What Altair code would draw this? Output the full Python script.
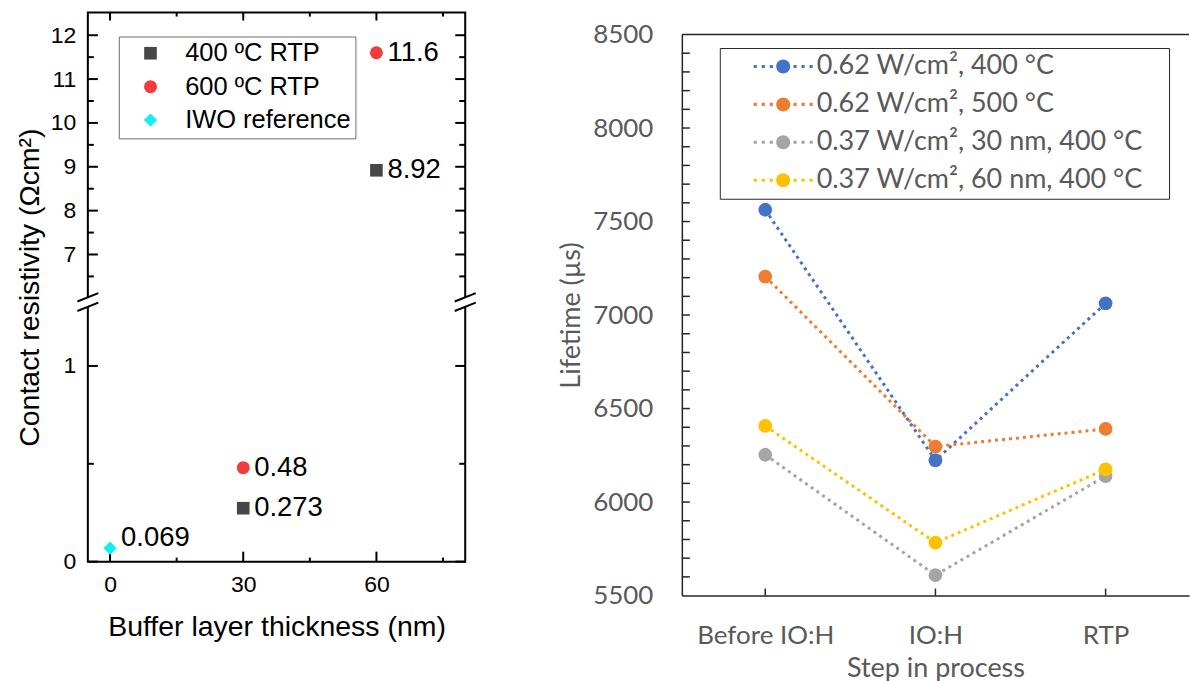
import altair as alt
import pandas as pd

# ---------------- data: left panel ----------------
left_series = ["400 ºC RTP", "600 ºC RTP", "IWO reference"]
left_colors = ["#474747", "#F23C3C", "#12EEF6"]
left_shapes = ["square", "circle", "diamond"]
left_sizes = [160, 177, 246]
rtp400_x = [30, 60]
rtp400_y = [0.273, 8.92]
rtp600_x = [30, 60]
rtp600_y = [0.48, 11.6]
iwo_x = [0]
iwo_y = [0.069]
left_x_ticks = [0, 30, 60]
left_x_minor = [15, 45, 75]
left_y_ticks = [0, 1, 7, 8, 9, 10, 11, 12]
left_y_minor = [0.5, 6.5, 7.5, 8.5, 9.5, 10.5, 11.5]

# ---------------- data: right panel ----------------
steps = ["Before IO:H", "IO:H", "RTP"]
right_series = ["0.62 W/cm², 400 °C", "0.62 W/cm², 500 °C",
                "0.37 W/cm², 30 nm, 400 °C", "0.37 W/cm², 60 nm, 400 °C"]
right_colors = ["#4472C4", "#ED7D31", "#A5A5A5", "#FFC000"]
blue = [7563, 6223, 7063]
orange = [7206, 6297, 6391]
gray = [6253, 5609, 6139]
yellow = [6407, 5783, 6175]
right_y_ticks = [5500, 6000, 6500, 7000, 7500, 8000, 8500]
right_y_minor = list(range(5600, 8500, 100))

FL = "Liberation Sans, Arial, sans-serif"
FR = "Lato, sans-serif"

# ---------------- left chart ----------------
L_W, L_H = 378, 550
pts = pd.DataFrame({
    "x": rtp400_x + rtp600_x + iwo_x,
    "y": rtp400_y + rtp600_y + iwo_y,
    "ser": [left_series[0]] * 2 + [left_series[1]] * 2 + [left_series[2]],
})
pts["label"] = [str(v) for v in pts["y"]]

xs_l = alt.Scale(domain=[-5, 80], nice=False, zero=False)
ys_l = alt.Scale(domain=[0, 1.3265, 5.915, 12.517], range=[L_H, 290, 290, 0],
                 nice=False, zero=False)
XL = alt.X("x:Q", scale=xs_l, axis=alt.Axis(
    values=left_x_ticks, ticks=False, tickSize=0, domain=False, grid=False,
    labelFont=FL, labelFontSize=23, labelColor="black", labelPadding=12,
    title="Buffer layer thickness (nm)", titleFont=FL, titleFontSize=28.5,
    titleFontWeight="normal", titleColor="black", titleBaseline="alphabetic", titleY=74))
YL = alt.Y("y:Q", scale=ys_l, axis=alt.Axis(
    values=left_y_ticks, ticks=False, tickSize=0, domain=False, grid=False,
    labelFont=FL, labelFontSize=23, labelColor="black", labelPadding=12,
    title="Contact resistivity (Ωcm²)", titleFont=FL, titleFontSize=28.5,
    titleFontWeight="normal", titleColor="black", titleBaseline="alphabetic", titleX=-49))

leg_l = alt.Legend(title=None, orient="none", legendX=31, legendY=24, padding=4,
                   symbolOffset=15, labelOffset=22, rowPadding=6.5, labelLimit=400,
                   labelFont=FL, labelFontSize=25.5, labelColor="black",
                   strokeColor="#6b6b6b", fillColor="white", symbolStrokeWidth=0,
                   symbolOpacity=1)

points_l = alt.Chart(pts).mark_point(filled=True, opacity=1, strokeWidth=0).encode(
    x=XL, y=YL,
    fill=alt.Fill("ser:N", scale=alt.Scale(domain=left_series, range=left_colors),
                  sort=left_series, legend=leg_l),
    shape=alt.Shape("ser:N", scale=alt.Scale(domain=left_series, range=left_shapes),
                    sort=left_series, legend=leg_l),
    size=alt.Size("ser:N", scale=alt.Scale(domain=left_series, range=left_sizes),
                  sort=left_series, legend=leg_l),
)
txt_rtp = alt.Chart(pts[pts["ser"] != left_series[2]]).mark_text(
    align="left", baseline="middle", dx=11, font=FL, fontSize=27.5, color="black"
).encode(x=XL, y=YL, text="label:N")
txt_iwo = alt.Chart(pts[pts["ser"] == left_series[2]]).mark_text(
    align="left", baseline="middle", dx=11, dy=-10, font=FL, fontSize=27.5, color="black"
).encode(x=XL, y=YL, text="label:N")

ymaj = pd.DataFrame({"y": left_y_ticks})
ymin = pd.DataFrame({"y": left_y_minor})
xmaj = pd.DataFrame({"x": left_x_ticks})
xmin = pd.DataFrame({"x": left_x_minor})
tk = dict(color="black", strokeWidth=2)
ticks_l = [
    alt.Chart(ymaj).mark_rule(**tk).encode(y=YL, x=alt.value(0), x2=alt.value(10)),
    alt.Chart(ymin).mark_rule(**tk).encode(y=YL, x=alt.value(0), x2=alt.value(6)),
    alt.Chart(ymaj).mark_rule(**tk).encode(y=YL, x=alt.value(L_W - 10), x2=alt.value(L_W)),
    alt.Chart(ymin).mark_rule(**tk).encode(y=YL, x=alt.value(L_W - 6), x2=alt.value(L_W)),
    alt.Chart(xmaj).mark_rule(**tk).encode(x=XL, y=alt.value(L_H - 10), y2=alt.value(L_H)),
    alt.Chart(xmin).mark_rule(**tk).encode(x=XL, y=alt.value(L_H - 4), y2=alt.value(L_H)),
    alt.Chart(xmaj).mark_rule(**tk).encode(x=XL, y=alt.value(0), y2=alt.value(8)),
    alt.Chart(xmin).mark_rule(**tk).encode(x=XL, y=alt.value(0), y2=alt.value(4)),
]

brk = pd.DataFrame({"x": [-5, 80], "y": [3.5, 3.5]})
breaks = [
    alt.Chart(brk).mark_rule(color="white", strokeWidth=6, yOffset=-5, y2Offset=5).encode(
        x=XL, x2="x:Q", y=YL, y2="y:Q"),
    alt.Chart(brk).mark_rule(color="black", strokeWidth=2, xOffset=-10.5, x2Offset=10.5,
                             yOffset=-0.6, y2Offset=-9).encode(x=XL, x2="x:Q", y=YL, y2="y:Q"),
    alt.Chart(brk).mark_rule(color="black", strokeWidth=2, xOffset=-10.5, x2Offset=10.5,
                             yOffset=9, y2Offset=0.6).encode(x=XL, x2="x:Q", y=YL, y2="y:Q"),
]

left = alt.layer(*ticks_l, *breaks, points_l, txt_rtp, txt_iwo).properties(
    width=L_W, height=L_H, view=alt.ViewBackground(stroke="black", strokeWidth=2))

# ---------------- right chart ----------------
R_W, R_H = 508, 562
rows = []
for name, vals in zip(right_series, [blue, orange, gray, yellow]):
    for s, v in zip(steps, vals):
        rows.append({"step": s, "value": v, "sr": name})
rdf = pd.DataFrame(rows)

XR = alt.X("step:N", sort=steps, scale=alt.Scale(type="point", domain=steps, padding=0.49),
           axis=alt.Axis(labelAngle=0, ticks=False, tickSize=0, domain=True, domainColor="#262626",
                         domainWidth=1.5, grid=False, labelFont=FR, labelFontSize=26,
                         labelColor="#595959", labelPadding=27, title="Step in process",
                         titleFont=FR, titleFontSize=27, titleColor="#595959",
                         titleFontWeight="normal", titleBaseline="alphabetic", titleY=81))
YR = alt.Y("value:Q", scale=alt.Scale(domain=[5500, 8500], nice=False, zero=False),
           axis=alt.Axis(values=right_y_ticks, format="d", ticks=False, tickSize=0,
                         domain=True, domainColor="#262626", domainWidth=1.5, grid=False,
                         labelFont=FR, labelFontSize=26, labelColor="#595959", labelPadding=29,
                         title="Lifetime (µs)", titleFont=FR, titleFontSize=27,
                         titleColor="#595959", titleFontWeight="normal",
                         titleBaseline="alphabetic", titleX=-103))

def dot(cx, h=0.22):
    return f"M{cx - h:.3f},{-h:.3f}h{2 * h:.3f}v{2 * h:.3f}h{-2 * h:.3f}Z"

sym_path = "M-1,0A1,1,0,1,1,1,0A1,1,0,1,1,-1,0Z" + "".join(
    dot(c) for c in [-4.0, -2.85, -1.7, 1.7, 2.85, 4.0])

pad_expr = "datum.label + '" + "\u00a0" * 3 + "\u200b'"
leg_r = alt.Legend(title=None, orient="none", legendX=38, legendY=35.5, padding=5,
                   symbolType=sym_path, symbolSize=196, symbolOffset=45, labelOffset=20,
                   rowPadding=10, labelFont=FR, labelFontSize=27, labelColor="#595959",
                   labelLimit=600, strokeColor="#262626", fillColor="white",
                   symbolStrokeWidth=0, symbolOpacity=1, labelExpr=pad_expr)

lines_r = alt.Chart(rdf).mark_line(strokeWidth=3, strokeDash=[3, 4]).encode(
    x=XR, y=YR,
    stroke=alt.Stroke("sr:N", scale=alt.Scale(domain=right_series, range=right_colors),
                      sort=right_series, legend=leg_r))
points_r = alt.Chart(rdf).mark_point(filled=True, size=190, opacity=1, strokeWidth=0,
                                     shape="circle").encode(
    x=XR, y=YR,
    fill=alt.Fill("sr:N", scale=alt.Scale(domain=right_series, range=right_colors),
                  sort=right_series, legend=leg_r))

rk = dict(color="#262626", strokeWidth=1.5)
ticks_r = [
    alt.Chart(pd.DataFrame({"value": right_y_minor})).mark_rule(**rk).encode(
        y=YR, x=alt.value(0), x2=alt.value(8)),
    alt.Chart(pd.DataFrame({"step": steps})).mark_rule(**rk).encode(
        x=XR, y=alt.value(R_H - 7), y2=alt.value(R_H)),
    alt.Chart(pd.DataFrame({"value": [8500]})).mark_rule(**rk).encode(y=YR),
]

right = alt.layer(*ticks_r, lines_r, points_r).properties(width=R_W, height=R_H)

spacer = alt.Chart(pd.DataFrame({"s": [0]})).mark_point(opacity=0).encode(
    x=alt.value(0), y=alt.value(0)).properties(width=R_W, height=22)

chart = alt.hconcat(
    left,
    alt.vconcat(spacer, right, spacing=0, bounds="flush"),
    spacing=217, bounds="flush",
).resolve_scale(x="independent", y="independent", fill="independent",
                shape="independent", size="independent", stroke="independent").properties(
    padding={"left": 15, "top": 9, "right": 0, "bottom": 0}
).configure_view(stroke=None)

chart.save("out.html", embed_options={"renderer": "svg", "actions": False})
